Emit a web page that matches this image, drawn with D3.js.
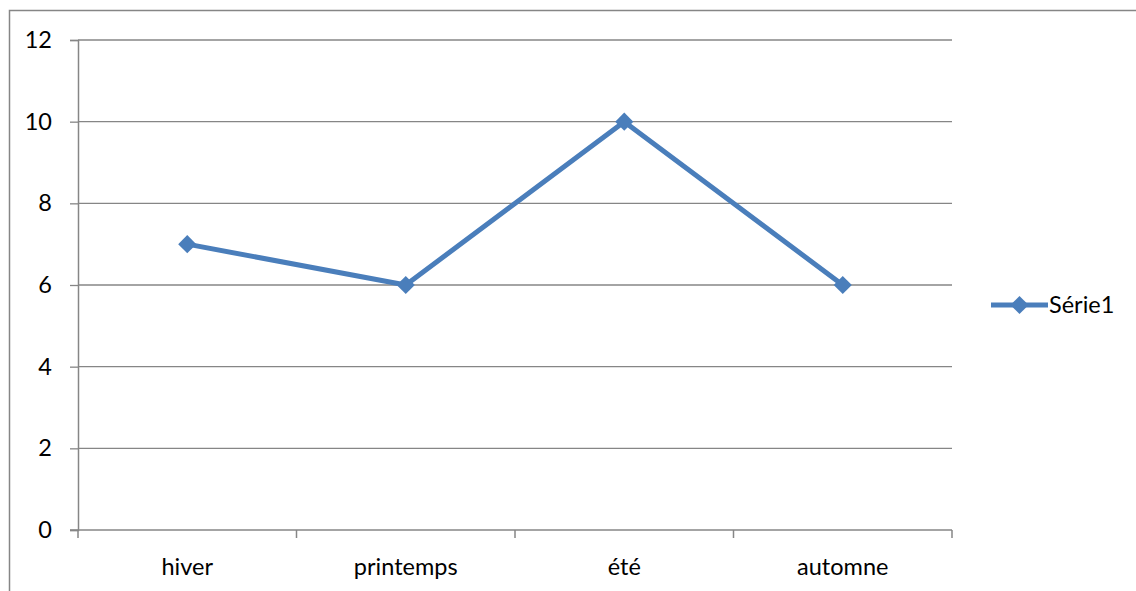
<!DOCTYPE html>
<html>
<head>
<meta charset="utf-8">
<script src="https://cdn.jsdelivr.net/npm/d3@7"></script>
<style>
  html, body { margin: 0; padding: 0; background: #fff; }
  svg { display: block; }
  text { font-family: Lato, "Open Sans", sans-serif; fill: #000; }
</style>
</head>
<body>
<svg id="chart" width="1136" height="591"></svg>
<script>
// Seasonal values for the single series
const categories = ["hiver", "printemps", "été", "automne"];
const values = [7, 6, 10, 6];
const yTicks = [0, 2, 4, 6, 8, 10, 12];
const seriesName = "Série1";

const svg = d3.select("#chart");
const W = 1136, H = 591;
const plot = { left: 78, right: 952, top: 40, bottom: 530 };
const gridColor = "#868686";
const lineColor = "#4a7ebb";
const fontSize = "23.5px";

// Outer chart frame
svg.append("rect")
  .attr("x", 9.5).attr("y", 10.5)
  .attr("width", W + 10).attr("height", H + 10)
  .attr("fill", "none").attr("stroke", gridColor).attr("stroke-width", 1.5);

const x = d3.scaleBand().domain(categories).range([plot.left, plot.right]).padding(0);
const y = d3.scaleLinear().domain([0, 12]).range([plot.bottom, plot.top]);

// Horizontal gridlines
svg.append("g")
  .selectAll("line")
  .data(yTicks.filter(d => d > 0))
  .join("line")
  .attr("x1", plot.left).attr("x2", plot.right)
  .attr("y1", d => y(d)).attr("y2", d => y(d))
  .attr("stroke", gridColor).attr("stroke-width", 1.3);

// Y axis
const yAxis = svg.append("g")
  .attr("transform", `translate(${plot.left},0)`)
  .call(d3.axisLeft(y).tickValues(yTicks).tickSize(8).tickPadding(18).tickFormat(d3.format("d")));
yAxis.select(".domain").attr("stroke", gridColor).attr("stroke-width", 1.5);
yAxis.selectAll(".tick line").attr("stroke", gridColor).attr("stroke-width", 1.3);
yAxis.selectAll("text").style("font-size", fontSize).attr("fill", "#000")
  .style("font-family", "Lato, 'Open Sans', sans-serif");

// X axis with ticks at category boundaries
const xAxisG = svg.append("g").attr("transform", `translate(0,${plot.bottom})`);
xAxisG.append("line")
  .attr("x1", plot.left - 8).attr("x2", plot.right)
  .attr("stroke", gridColor).attr("stroke-width", 1.5);
const boundaries = categories.map(c => x(c)).concat([x(categories[categories.length - 1]) + x.bandwidth()]);
xAxisG.selectAll("line.tick")
  .data(boundaries)
  .join("line")
  .attr("class", "tick")
  .attr("x1", d => d).attr("x2", d => d)
  .attr("y1", 0).attr("y2", 8)
  .attr("stroke", gridColor).attr("stroke-width", 1.5);
xAxisG.selectAll("text")
  .data(categories)
  .join("text")
  .attr("x", d => x(d) + x.bandwidth() / 2)
  .attr("y", 45)
  .attr("text-anchor", "middle")
  .style("font-size", fontSize)
  .text(d => d);

// Series line
const pts = categories.map((c, i) => [x(c) + x.bandwidth() / 2, y(values[i])]);
svg.append("path")
  .attr("d", d3.line()(pts))
  .attr("fill", "none")
  .attr("stroke", lineColor)
  .attr("stroke-width", 5)
  .attr("stroke-linejoin", "round");

const diamond = d3.symbol().type(d3.symbolDiamond2).size(210);
svg.append("g")
  .selectAll("path")
  .data(pts)
  .join("path")
  .attr("d", diamond)
  .attr("transform", d => `translate(${d[0]},${d[1]})`)
  .attr("fill", lineColor);

// Legend
const lg = svg.append("g").attr("transform", "translate(991,305)");
lg.append("line").attr("x1", 0).attr("x2", 57)
  .attr("stroke", lineColor).attr("stroke-width", 5);
lg.append("path").attr("d", diamond).attr("transform", "translate(28.5,0)").attr("fill", lineColor);
lg.append("text").attr("x", 58).attr("y", 8)
  .style("font-size", fontSize).text(seriesName);
</script>
</body>
</html>
